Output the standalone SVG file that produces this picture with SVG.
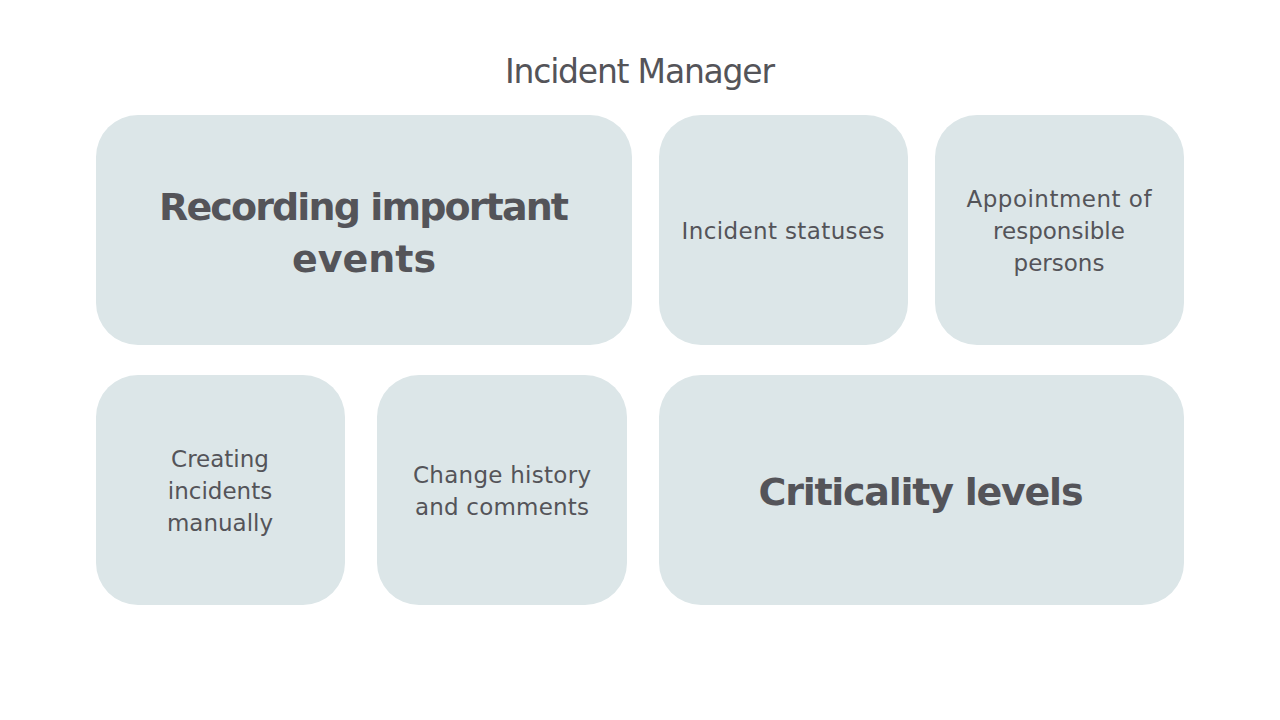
<svg xmlns="http://www.w3.org/2000/svg" width="1280" height="720" viewBox="0 0 1280 720">
<style>
.b{fill:#dce6e8;}
text{font-family:"DejaVu Sans","Liberation Sans",sans-serif;fill:#545459;text-anchor:middle;}
.s{font-size:23px;}
.l{font-size:38px;font-weight:bold;}
.t{font-size:33px;}
</style>
<rect width="1280" height="720" fill="#fff"/>
<text class="t" x="640" y="83" textLength="270">Incident Manager</text>
<g id="n1"><rect class="b" x="96" y="115" width="536" height="230" rx="42"/>
<text class="l" x="364" y="220" textLength="410">Recording important</text><text class="l" x="364" y="272">events</text></g>
<g id="n2"><rect class="b" x="659" y="115" width="249" height="230" rx="42"/>
<text class="s" x="783" y="239" textLength="203">Incident statuses</text></g>
<g id="n3"><rect class="b" x="935" y="115" width="249" height="230" rx="42"/>
<text class="s" x="1059" y="207" textLength="185">Appointment of</text><text class="s" x="1059" y="239">responsible</text><text class="s" x="1059" y="271">persons</text></g>
<g id="n4"><rect class="b" x="96" y="375" width="249" height="230" rx="42"/>
<text class="s" x="220" y="467">Creating</text><text class="s" x="220" y="499">incidents</text><text class="s" x="220" y="531">manually</text></g>
<g id="n5"><rect class="b" x="377" y="375" width="250" height="230" rx="42"/>
<text class="s" x="502" y="483" textLength="178">Change history</text><text class="s" x="502" y="515" textLength="174">and comments</text></g>
<g id="n6"><rect class="b" x="659" y="375" width="525" height="230" rx="42"/>
<text class="l" x="921" y="505" textLength="325">Criticality levels</text></g>
<g id="connectors"/>
</svg>
